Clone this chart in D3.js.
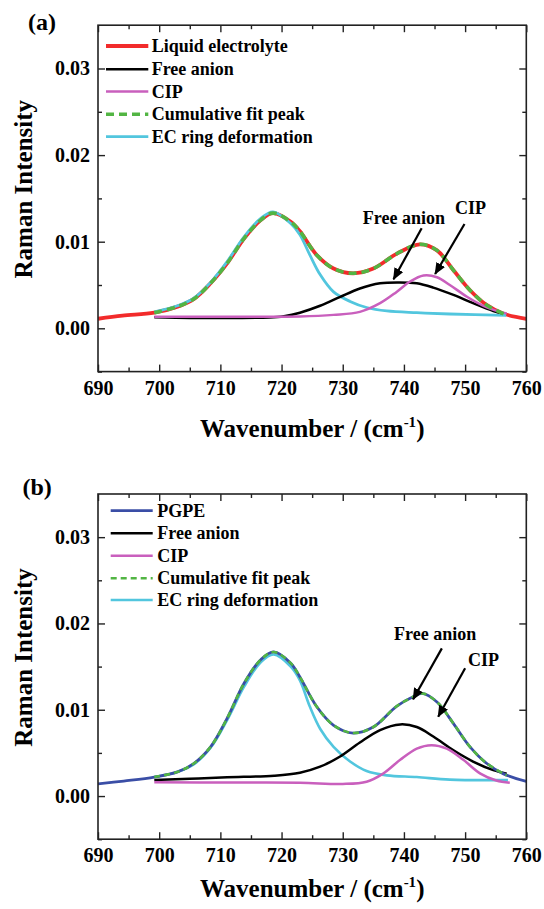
<!DOCTYPE html>
<html><head><meta charset="utf-8">
<script src="https://cdn.jsdelivr.net/npm/d3@7"></script>
<style>
body{margin:0;background:#fff}
svg{display:block}
text{font-family:"Liberation Serif","Times New Roman",serif;font-weight:bold;fill:#000}
</style>
</head><body>
<svg id="chart" width="544" height="909"></svg>
<script>
// ---------- data ----------
const xTickValues = [690, 700, 710, 720, 730, 740, 750, 760];
const xTickLabels = ["690", "700", "710", "720", "730", "740", "750", "760"];
const yTickValues = [0, 0.01, 0.02, 0.03];
const yTickLabels = ["0.00", "0.01", "0.02", "0.03"];
const panelLabels = ["(a)", "(b)"];
const legendA = ["Liquid electrolyte", "Free anion", "CIP", "Cumulative fit peak", "EC ring deformation"];
const legendB = ["PGPE", "Free anion", "CIP", "Cumulative fit peak", "EC ring deformation"];
const annotationTexts = ["Free anion", "CIP"];

// panel (a) series: [wavenumber, intensity]
const liquidA = [[690,0.0011],[694,0.00146],[699.2,0.0018],[703,0.0025],[705.7,0.0034],[708.4,0.0052],[711.1,0.0075],[713.9,0.0104],[716.6,0.0125],[718.6,0.0133],[721.5,0.0123],[723,0.0112],[725.7,0.0085],[728.5,0.0069],[731.7,0.00635],[735,0.0069],[738.8,0.0086],[742.6,0.0097],[745.4,0.0090],[748.1,0.0067],[750.8,0.0044],[753.5,0.0027],[756.2,0.0017],[760,0.0011]];
const freeA = [[699.2,0.00127],[705,0.0012],[712,0.0012],[718,0.00125],[720.4,0.0014],[723,0.0018],[726.3,0.0026],[729.5,0.0036],[732.8,0.0046],[736.1,0.0052],[739.2,0.0053],[742.1,0.0052],[744.8,0.0047],[748.1,0.00385],[751.3,0.0029],[754.6,0.0020],[756.2,0.0017]];
const cipA = [[699.2,0.00134],[710,0.00134],[723,0.00136],[728.5,0.00155],[732.8,0.0019],[736.1,0.0029],[738.8,0.0042],[741,0.0054],[743.2,0.0061],[745.4,0.0059],[747.5,0.0050],[750.3,0.00365],[753,0.0026],[755.7,0.0019],[756.8,0.0017]];
const cumA = [[699.2,0.0018],[703,0.0025],[705.7,0.0034],[708.4,0.0052],[711.1,0.0075],[713.9,0.0104],[716.6,0.0125],[718.6,0.0133],[721.5,0.0123],[723,0.0112],[725.7,0.0085],[728.5,0.0069],[731.7,0.00635],[735,0.0069],[738.8,0.0086],[742.6,0.0097],[745.4,0.0090],[748.1,0.0067],[750.8,0.0044],[753.5,0.0027],[756.7,0.00155]];
const ecA = [[699.2,0.0019],[703,0.0026],[705.7,0.0035],[708.4,0.0053],[711.1,0.0077],[713.9,0.0106],[716.6,0.0127],[718.6,0.01345],[721.5,0.0121],[723,0.0108],[724.6,0.0085],[726.3,0.0062],[728.5,0.0042],[731.2,0.0031],[733.9,0.0024],[737.2,0.0020],[742.1,0.0018],[747.5,0.00165],[756.7,0.0015]];

// panel (b) series
const pgpeB = [[690,0.0014],[694.2,0.00174],[699.2,0.0022],[703,0.0028],[705.7,0.0038],[708.4,0.0057],[711.1,0.0090],[713.9,0.0131],[716.6,0.0158],[718.7,0.0167],[721.5,0.0154],[723,0.0138],[725.7,0.0104],[728.5,0.0082],[731.7,0.0073],[735,0.0080],[738.8,0.0104],[741.5,0.0115],[743,0.0119],[745.4,0.0109],[748.1,0.0084],[750.8,0.0057],[753.5,0.0038],[756.2,0.0026],[760,0.0017]];
const freeB = [[699.2,0.00185],[705,0.0020],[711.1,0.00217],[718.8,0.00236],[723,0.0027],[726.3,0.0034],[729.5,0.00455],[732.8,0.0062],[736.1,0.00765],[739.4,0.0083],[742.1,0.0080],[744.8,0.0069],[748.1,0.0053],[751.3,0.0040],[754.6,0.0030],[756.8,0.0026]];
const cipB = [[699.2,0.0016],[712,0.00157],[723,0.00155],[730,0.0014],[733.9,0.00166],[736.6,0.0026],[739.4,0.0042],[742.1,0.0055],[744.5,0.0059],[747,0.0055],[749.7,0.0042],[752.5,0.0026],[755.1,0.0018],[757.3,0.00155]];
const cumB = [[699.2,0.0022],[703,0.0028],[705.7,0.0038],[708.4,0.0057],[711.1,0.0090],[713.9,0.0131],[716.6,0.0158],[718.7,0.0167],[721.5,0.0154],[723,0.0138],[725.7,0.0104],[728.5,0.0082],[731.7,0.0073],[735,0.0080],[738.8,0.0104],[741.5,0.0115],[743,0.0119],[745.4,0.0109],[748.1,0.0084],[750.8,0.0057],[753.5,0.0038],[756.8,0.0024]];
const ecB = [[699.2,0.0022],[703,0.0028],[705.7,0.0037],[708.4,0.0056],[711.1,0.0088],[713.9,0.0127],[716.6,0.0155],[718.7,0.0164],[721.5,0.0150],[723,0.0134],[724.6,0.0104],[726.3,0.0078],[728.5,0.0057],[731.2,0.0040],[733.9,0.0029],[737.2,0.0024],[742.1,0.0022],[747.5,0.0019],[757,0.00185]];

// annotations: text anchor [x,y] and arrow [start, tip] in data units
const annotA = {free:{text:[740,0.0120], arrow:[[742.9,0.01155],[738.3,0.00566]]}, cip:{text:[750.9,0.0132], arrow:[[749.9,0.01204],[745.1,0.00627]]}};
const annotB = {free:{text:[745.1,0.01808], arrow:[[746.2,0.01711],[741.5,0.01121]]}, cip:{text:[753.0,0.01506], arrow:[[750.0,0.0148],[745.6,0.00919]]}};

// ---------- drawing ----------
const svg = d3.select("#chart");
const COL = {red:"#f22b2b", black:"#000000", pink:"#c95fbd", green:"#52b543", cyan:"#52c6de", blue:"#3a4ea6"};

svg.append("defs").append("marker")
  .attr("id","arrowHead").attr("viewBox","0 0 12 10").attr("refX",11).attr("refY",5)
  .attr("markerWidth",12).attr("markerHeight",10).attr("markerUnits","userSpaceOnUse")
  .attr("orient","auto")
  .append("path").attr("d","M0,0 L12,5 L0,10 Z").attr("fill","#000");

function drawPanel(cfg) {
  const x = d3.scaleLinear().domain([690, 760]).range([98, 526.3]);
  const y = d3.scaleLinear().domain([-0.005, 0.035]).range([cfg.bottom, cfg.top]);
  const g = svg.append("g");
  const line = d3.line().x(d => x(d[0])).y(d => y(d[1])).curve(d3.curveCatmullRom.alpha(0.5));

  const clip = "clip" + cfg.id;
  svg.select("defs").append("clipPath").attr("id", clip)
    .append("rect").attr("x", 98).attr("y", cfg.top).attr("width", 428.3).attr("height", cfg.bottom - cfg.top);

  const plot = g.append("g").attr("clip-path", `url(#${clip})`);
  cfg.series.forEach(s => {
    plot.append("path").datum(s.data).attr("d", line)
      .attr("fill","none").attr("stroke", s.color).attr("stroke-width", s.width)
      .attr("stroke-dasharray", s.dash || null).attr("stroke-linejoin","round");
  });

  // axes (ticks inside)
  const minorX = d3.range(695, 760, 10);
  const minorY = [-0.005, 0.005, 0.015, 0.025];
  const bottomG = g.append("g").attr("transform", `translate(0,${cfg.bottom})`);
  bottomG.call(d3.axisBottom(x).tickValues(xTickValues).tickFormat((d,i) => xTickLabels[i]).tickSize(-7).tickPadding(9));
  bottomG.append("g").call(d3.axisBottom(x).tickValues(minorX).tickFormat("").tickSize(-4));
  const topG = g.append("g").attr("transform", `translate(0,${cfg.top})`);
  topG.call(d3.axisTop(x).tickValues(xTickValues).tickFormat("").tickSize(-7));
  topG.append("g").call(d3.axisTop(x).tickValues(minorX).tickFormat("").tickSize(-4));
  const leftG = g.append("g").attr("transform", `translate(98,0)`);
  leftG.call(d3.axisLeft(y).tickValues(yTickValues).tickFormat((d,i) => yTickLabels[i]).tickSize(-7).tickPadding(8));
  leftG.append("g").call(d3.axisLeft(y).tickValues(minorY).tickFormat("").tickSize(-4));
  const rightG = g.append("g").attr("transform", `translate(526.3,0)`);
  rightG.call(d3.axisRight(y).tickValues(yTickValues).tickFormat("").tickSize(-7));
  rightG.append("g").call(d3.axisRight(y).tickValues(minorY).tickFormat("").tickSize(-4));
  g.selectAll(".domain").remove();
  g.selectAll(".tick line").attr("stroke","#222").attr("stroke-width",1.4);
  g.selectAll(".tick text").attr("font-size", 20).attr("font-family", '"Liberation Serif",serif').attr("font-weight","bold").attr("fill","#000");

  g.append("rect").attr("x",98).attr("y",cfg.top).attr("width",428.3).attr("height",cfg.bottom-cfg.top)
    .attr("fill","none").attr("stroke","#222").attr("stroke-width",1.6);

  // axis titles
  g.append("text").attr("transform", `translate(32,${cfg.yTitleY}) rotate(-90)`)
    .attr("text-anchor","middle").attr("font-size",25).text("Raman Intensity");
  const xt = g.append("text").attr("x", 312.2).attr("y", cfg.xTitleY).attr("text-anchor","middle").attr("font-size",25);
  xt.append("tspan").text("Wavenumber / (cm");
  xt.append("tspan").attr("font-size",15).attr("dy",-10).text("-1");
  xt.append("tspan").attr("dy",10).text(")");

  // panel label
  g.append("text").attr("x", cfg.labelX).attr("y", cfg.labelY).attr("font-size",24).text(cfg.label);

  // legend
  const lg = g.append("g");
  cfg.legend.forEach((name, i) => {
    const s = cfg.legendSeries[i];
    const yy = cfg.legY[i];
    lg.append("line").attr("x1", cfg.legX1).attr("x2", cfg.legX2).attr("y1", yy).attr("y2", yy)
      .attr("stroke", s.color).attr("stroke-width", s.legWidth || s.width).attr("stroke-dasharray", s.dash || null);
    lg.append("text").attr("x", cfg.legTextX).attr("y", yy + 6).attr("font-size",18).text(name);
  });

  // annotations
  const ann = cfg.annot;
  [["free", annotationTexts[0]], ["cip", annotationTexts[1]]].forEach(([k, t]) => {
    const a = ann[k];
    g.append("text").attr("x", x(a.text[0])).attr("y", y(a.text[1])).attr("text-anchor","middle").attr("font-size",18).text(t);
    g.append("line").attr("x1", x(a.arrow[0][0])).attr("y1", y(a.arrow[0][1]))
      .attr("x2", x(a.arrow[1][0])).attr("y2", y(a.arrow[1][1]))
      .attr("stroke","#000").attr("stroke-width",2.2).attr("marker-end","url(#arrowHead)");
  });
}

const sRedA = {data: liquidA, color: COL.red, width: 3.8};
const sFreeA = {data: freeA, color: COL.black, width: 2.5};
const sCipA = {data: cipA, color: COL.pink, width: 2.5};
const sCumA = {data: cumA, color: COL.green, width: 3.6, dash: "8,5"};
const sEcA = {data: ecA, color: COL.cyan, width: 2.8};
drawPanel({
  id: "a", top: 25.2, bottom: 371.6, xTitleY: 436.7, yTitleY: 189.2,
  label: panelLabels[0], labelX: 28, labelY: 30,
  series: [sRedA, sEcA, sFreeA, sCipA, sCumA],
  legend: legendA, legendSeries: [sRedA, sFreeA, sCipA, sCumA, sEcA],
  legX1: 106, legX2: 148.3, legTextX: 151.7, legY: [46, 69.3, 91.5, 114.3, 136.7],
  annot: annotA
});

const sBlueB = {data: pgpeB, color: COL.blue, width: 2.8};
const sFreeB = {data: freeB, color: COL.black, width: 2.5};
const sCipB = {data: cipB, color: COL.pink, width: 2.5};
const sCumB = {data: cumB, color: COL.green, width: 2.6, dash: "6,4"};
const sEcB = {data: ecB, color: COL.cyan, width: 2.6};
drawPanel({
  id: "b", top: 494, bottom: 839.2, xTitleY: 896.7, yTitleY: 657.5,
  label: panelLabels[1], labelX: 22.5, labelY: 495,
  series: [sEcB, sFreeB, sCipB, sBlueB, sCumB],
  legend: legendB, legendSeries: [sBlueB, sFreeB, sCipB, sCumB, sEcB],
  legX1: 110.7, legX2: 152.7, legTextX: 157.3, legY: [510.7, 533.3, 555.7, 578.3, 600],
  annot: annotB
});
</script>
</body></html>
